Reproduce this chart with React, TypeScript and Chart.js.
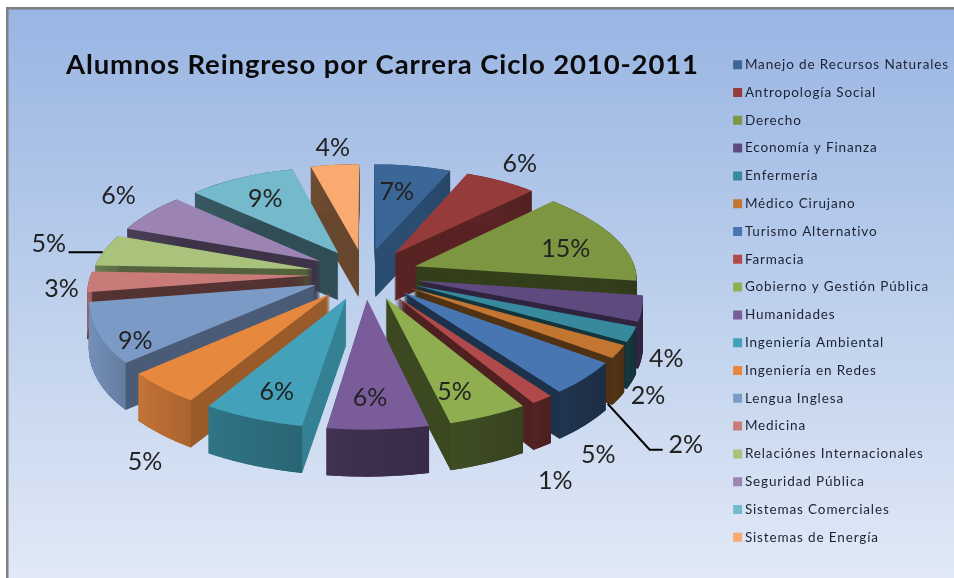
import React, { useEffect, useRef } from "react";
import { Chart, registerables } from "chart.js";

Chart.register(...registerables);

// ---- data ----
const categories = [
  "Manejo de Recursos Naturales", "Antropología Social", "Derecho", "Economía y Finanza",
  "Enfermería", "Médico Cirujano", "Turismo Alternativo", "Farmacia",
  "Gobierno y Gestión Pública", "Humanidades", "Ingeniería Ambiental", "Ingeniería en Redes",
  "Lengua Inglesa", "Medicina", "Relaciónes Internacionales", "Seguridad Pública",
  "Sistemas Comerciales", "Sistemas de Energía",
];
const shares = [6.5, 6.1, 14.5, 3.8, 2.2, 1.9, 4.8, 1.4, 4.9, 6.15, 6.2, 4.8, 8.95, 3.1, 4.9, 6.2, 9.1, 4.1];

// ---- styles ----
const colors = [
  "#3a6698", "#953b3b", "#7c9642", "#5f4a80", "#378a9e", "#c27632", "#4876b2", "#b04a4a", "#8eae4f",
  "#7b5c9b", "#43a1b9", "#e6883e", "#7c9ac6", "#c97b79", "#a9c37c", "#9b83b3", "#75b9cd", "#f8aa70",
];
const sideShade = [0.75, 0.6, 0.42, 0.5, 0.38, 0.42, 0.42, 0.45, 0.42, 0.5, 0.8, 0.67, 0.6, 0.42, 0.5, 0.4, 0.42, 0.42];
const wallShade = [0.75, 0.6, 0.42, 0.5, 0.38, 0.42, 0.42, 0.45, 0.42, 0.5, 0.68, 0.8, 0.88, 0.8, 0.6, 0.45, 0.45, 0.42];
// label offset from the outer-middle point of each exploded slice
const labelDx = [-16, 19, -46, 24, 16, 67, 13, 13, -34, -8, 24, -17, 38, -27, -56, -31, 24, -2];
const labelDy = [26, -17, 13, 50, 62, 93, 77, 81, -24, -32, -27, 74, 8, 7, -6, -17, 21, -17];
const leaders: Record<number, number[][]> = {
  5: [[-11, 52], [31, 98], [44, 98]],
  14: [[-2, 2], [-36, 2]],
};

// ---- pseudo-perspective of the pie plane ----
const view = { cx: 365, cy: 274, sx: 221, sy: 104, persp: 0.14, explode: 0.24, depth: 47 };

function project(theta: number, rho: number, mid: number) {
  const X = view.explode * Math.sin(mid) + rho * Math.sin(theta);
  const Y = -view.explode * Math.cos(mid) - rho * Math.cos(theta);
  const s = 1 / (1 - view.persp * Y);
  return { x: view.cx + view.sx * X * s, y: view.cy + view.sy * Y * s };
}

function shade(hex: string, f: number) {
  const n = parseInt(hex.slice(1), 16);
  const c = [(n >> 16) & 255, (n >> 8) & 255, n & 255].map((v) => Math.min(255, Math.round(v * f)));
  return `rgb(${c[0]},${c[1]},${c[2]})`;
}

const tracking = "0.87px";

const pie3d = {
  id: "pie3d",
  beforeLayout(chart: any) {
    chart.ctx.letterSpacing = tracking;
  },
  beforeDraw(chart: any) {
    const { ctx, width, height } = chart;
    ctx.letterSpacing = tracking;
    ctx.save();
    ctx.fillStyle = "#ffffff";
    ctx.fillRect(0, 0, width, height);
    const g = ctx.createLinearGradient(0, 8, 0, height);
    g.addColorStop(0, "#99b5e3");
    g.addColorStop(0.5, "#bccfec");
    g.addColorStop(1, "#e1e9f6");
    ctx.fillStyle = g;
    ctx.fillRect(7, 8, width - 7, height - 8);
    ctx.fillStyle = "#808080";
    ctx.fillRect(6, 7, 2.5, height - 7);
    ctx.fillRect(6, 7, width - 6, 2.5);
    ctx.restore();
  },
  beforeDatasetsDraw(chart: any) {
    const { ctx } = chart;
    const arcs: any[] = chart.getDatasetMeta(0).data;
    const geo = arcs.map((arc, i) => {
      const a0 = arc.startAngle;
      const a1 = arc.endAngle;
      const R = arc.outerRadius;
      const t0 = a0 + Math.PI / 2;
      const t1 = a1 + Math.PI / 2;
      const mid = (t0 + t1) / 2;
      const A = project(0, 0, mid);
      const B = project(t0, 1, mid);
      const C = project(t1, 1, mid);
      const ux = R * Math.cos(a0), uy = R * Math.sin(a0);
      const vx = R * Math.cos(a1), vy = R * Math.sin(a1);
      const det = ux * vy - vx * uy;
      const Ux = B.x - A.x, Uy = B.y - A.y, Vx = C.x - A.x, Vy = C.y - A.y;
      const m = {
        a: (Ux * vy - Vx * uy) / det,
        c: (Vx * ux - Ux * vx) / det,
        b: (Uy * vy - Vy * uy) / det,
        d: (Vy * ux - Uy * vx) / det,
      };
      return { i, arc, a0, a1, R, mid, A, m };
    });
    const order = [...geo].sort((p, q) => -Math.cos(p.mid) - -Math.cos(q.mid));
    ctx.save();
    for (const g of order) {
      const { arc, m, A, i } = g;
      const e = A.x - m.a * arc.x - m.c * arc.y;
      const f = A.y - m.b * arc.x - m.d * arc.y;
      const original = arc.options;
      // side walls: the arc extruded downward
      arc.options = { ...original, backgroundColor: shade(colors[i], sideShade[i]) };
      for (let dy = view.depth; dy > 0; dy--) {
        ctx.setTransform(m.a, m.b, m.c, m.d, e, f + dy);
        arc.draw(ctx);
      }
      ctx.setTransform(1, 0, 0, 1, 0, 0);
      // outer wall
      const pts: { x: number; y: number }[] = [];
      const n = 30;
      for (let k = 0; k <= n; k++) {
        const t = g.a0 + ((g.a1 - g.a0) * k) / n;
        const px = g.R * Math.cos(t), py = g.R * Math.sin(t);
        pts.push({ x: A.x + m.a * px + m.c * py, y: A.y + m.b * px + m.d * py });
      }
      const xs = pts.map((p) => p.x);
      const grad = ctx.createLinearGradient(Math.min(...xs), 0, Math.max(...xs), 0);
      grad.addColorStop(0, shade(colors[i], wallShade[i] * 1.06));
      grad.addColorStop(1, shade(colors[i], wallShade[i] * 0.92));
      ctx.fillStyle = grad;
      ctx.beginPath();
      pts.forEach((p, k) => (k ? ctx.lineTo(p.x, p.y) : ctx.moveTo(p.x, p.y)));
      [...pts].reverse().forEach((p) => ctx.lineTo(p.x, p.y + view.depth));
      ctx.closePath();
      ctx.fill();
      // top face
      arc.options = original;
      ctx.setTransform(m.a, m.b, m.c, m.d, e, f);
      arc.draw(ctx);
      ctx.setTransform(1, 0, 0, 1, 0, 0);
    }
    // percent labels and leader lines
    const total = shares.reduce((s, v) => s + v, 0);
    ctx.letterSpacing = "0px";
    ctx.fillStyle = "#222222";
    ctx.strokeStyle = "#000000";
    ctx.lineWidth = 2;
    ctx.font = '25px Lato, "Open Sans", sans-serif';
    ctx.textAlign = "center";
    ctx.textBaseline = "middle";
    for (const g of geo) {
      const base = project(g.mid, 1, g.mid);
      ctx.fillText(
        `${Math.round((shares[g.i] / total) * 100)}%`,
        base.x + labelDx[g.i],
        base.y + labelDy[g.i],
      );
      const path = leaders[g.i];
      if (path) {
        ctx.beginPath();
        path.forEach(([dx, dy], k) =>
          k ? ctx.lineTo(base.x + dx, base.y + dy) : ctx.moveTo(base.x + dx, base.y + dy),
        );
        ctx.stroke();
      }
    }
    ctx.restore();
    return false;
  },
};

export default function App() {
  const ref = useRef<HTMLCanvasElement>(null);
  useEffect(() => {
    document.body.style.margin = "0";
    const chart = new Chart(ref.current as HTMLCanvasElement, {
      type: "pie",
      data: {
        labels: categories,
        datasets: [{ data: shares, backgroundColor: colors, borderWidth: 0 }],
      },
      plugins: [pie3d as any],
      options: {
        responsive: false,
        animation: false,
        radius: 200,
        layout: { padding: { top: 24, left: 66, right: -5, bottom: 0 } },
        plugins: {
          tooltip: { enabled: false },
          title: {
            display: true,
            fullSize: false,
            text: "Alumnos Reingreso por Carrera Ciclo 2010-2011",
            align: "start",
            color: "#0a0a0a",
            font: { family: 'Lato, "Open Sans", sans-serif', size: 27.5, weight: "bold" },
            padding: { top: 25, bottom: 10 },
          },
          legend: {
            display: true,
            position: "right",
            labels: {
              usePointStyle: true,
              pointStyle: "rect",
              boxWidth: 1,
              boxHeight: 9,
              padding: 14.3,
              color: "#1c2233",
              font: { family: 'Lato, "Open Sans", sans-serif', size: 13.5 },
            },
          },
        },
      } as any,
    });
    return () => chart.destroy();
  }, []);
  return <canvas ref={ref} width={954} height={578} style={{ display: "block" }} />;
}
